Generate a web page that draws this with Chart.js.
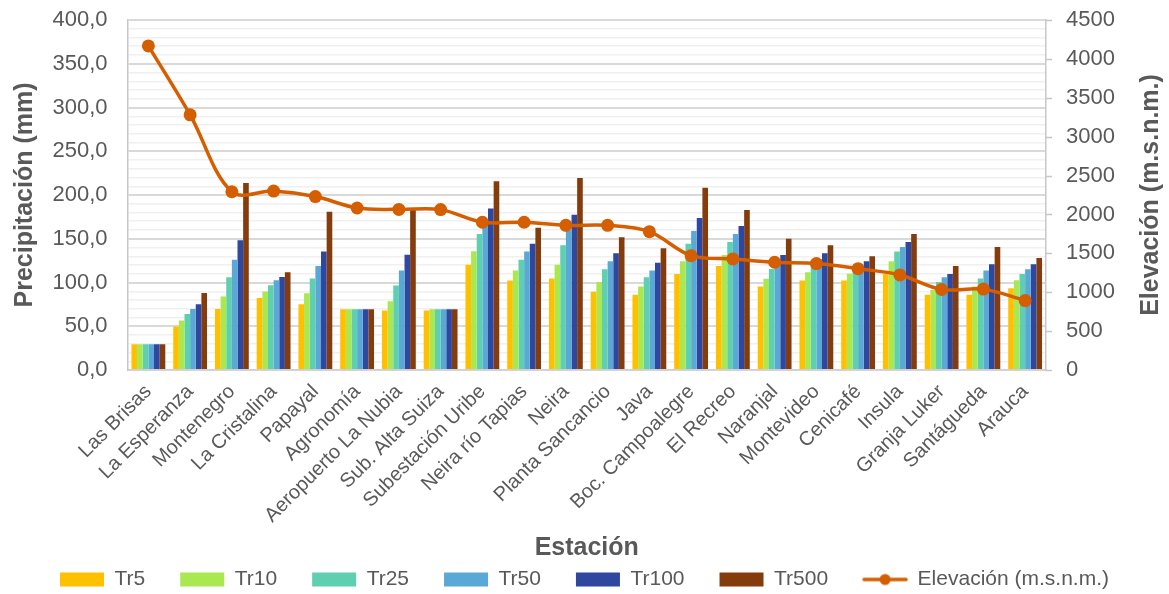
<!DOCTYPE html>
<html>
<head>
<meta charset="utf-8">
<script src="https://cdn.jsdelivr.net/npm/chart.js@4/dist/chart.umd.min.js"></script>
<style>
  html, body { margin: 0; padding: 0; background: #ffffff; }
  #wrap { width: 1169px; height: 594px; }
</style>
</head>
<body>
<div id="wrap"><canvas id="chart" width="1169" height="594"></canvas></div>
<script>
// Stations and return-period precipitation (mm), plus station elevation (m.s.n.m.)
const estaciones = ["Las Brisas", "La Esperanza", "Montenegro", "La Cristalina", "Papayal", "Agronomía",
  "Aeropuerto La Nubia", "Sub. Alta Suiza", "Subestación Uribe", "Neira río Tapias", "Neira",
  "Planta Sancancio", "Java", "Boc. Campoalegre", "El Recreo", "Naranjal", "Montevideo",
  "Cenicafé", "Insula", "Granja Luker", "Santágueda", "Arauca"];

const tr5   = [29.5, 49.7, 69.8, 82.4, 75.1, 69.4, 67.9, 67.9, 120.4, 102.4, 104.5, 89.5, 86.1, 109.7, 118.9, 95.3, 102.4, 102.4, 109.8, 86.1, 86.1, 93.4];
const tr10  = [29.5, 56.5, 83.9, 89.6, 87.7, 69.4, 78.6, 69.4, 135.7, 113.6, 120.4, 100.6, 95.3, 124.2, 131.5, 104.3, 111.7, 110.0, 124.2, 91.5, 95.3, 102.5];
const tr25  = [29.5, 64.1, 106.0, 96.8, 104.5, 69.4, 96.5, 69.4, 155.4, 126.1, 142.5, 115.1, 106.0, 144.4, 146.3, 115.3, 119.7, 114.5, 135.3, 100.6, 104.5, 109.8];
const tr50  = [29.5, 69.8, 126.1, 102.6, 118.9, 69.4, 113.6, 69.4, 166.9, 135.3, 159.6, 124.2, 113.6, 158.9, 155.4, 119.5, 126.9, 117.4, 140.6, 106.0, 113.6, 115.1];
const tr100 = [29.5, 75.2, 148.2, 106.4, 135.3, 69.4, 131.8, 69.4, 184.7, 144.4, 177.5, 133.4, 122.7, 173.7, 164.6, 131.5, 133.4, 124.4, 146.3, 109.8, 120.8, 120.8];
const tr500 = [29.5, 88.1, 213.7, 111.7, 181.0, 69.4, 184.0, 69.4, 215.6, 162.7, 219.4, 151.6, 139.1, 208.3, 182.8, 149.9, 142.7, 129.9, 155.4, 118.9, 140.6, 128.0];
const elevacion = [4167, 3281, 2292, 2300, 2230, 2083, 2065, 2062, 1900, 1900, 1860, 1860, 1779, 1470, 1428, 1385, 1368, 1303, 1222, 1035, 1040, 893];

const precipTicks = [0, 50, 100, 150, 200, 250, 300, 350, 400];
const elevTicks = [0, 500, 1000, 1500, 2000, 2500, 3000, 3500, 4000, 4500];

const TXT = '#595959';
const FONT = 'Liberation Sans, Arial, sans-serif';
const LINE_COLOR = '#D55E00';
const AXIS_COLOR = '#c8c8c8';
const ELEV_TITLE = 'Elevación (m.s.n.m.)';
const PAD_BOTTOM = -6;

// Legend swatch for the elevation series: short line with a round marker
const lineSwatch = document.createElement('canvas');
lineSwatch.width = 46; lineSwatch.height = 16;
(function () {
  const c = lineSwatch.getContext('2d');
  c.strokeStyle = LINE_COLOR; c.lineWidth = 3.5; c.lineCap = 'round';
  c.beginPath(); c.moveTo(2, 8); c.lineTo(44, 8); c.stroke();
  c.fillStyle = LINE_COLOR;
  c.beginPath(); c.arc(23, 8, 5.5, 0, Math.PI * 2); c.fill();
})();

// Right-hand axis: short outside tick marks and a title read bottom-to-top
const rightAxisDecor = {
  id: 'rightAxisDecor',
  afterDraw(chart) {
    const s = chart.scales.y1;
    const ctx = chart.ctx;
    ctx.save();
    ctx.strokeStyle = AXIS_COLOR;
    ctx.lineWidth = 1.5;
    ctx.beginPath();
    elevTicks.forEach(v => {
      const y = Math.round(s.getPixelForValue(v)) + 0.5;
      ctx.moveTo(s.left, y);
      ctx.lineTo(s.left + 6, y);
    });
    ctx.stroke();
    ctx.translate(1151, (s.top + s.bottom) / 2);
    ctx.rotate(-Math.PI / 2);
    ctx.font = 'bold 25px ' + FONT;
    ctx.fillStyle = TXT;
    ctx.textAlign = 'center';
    ctx.textBaseline = 'middle';
    ctx.fillText(ELEV_TITLE, 0, 0);
    ctx.restore();
  }
};

function barSet(label, data, color) {
  return { type: 'bar', label, data, backgroundColor: color, borderWidth: 0,
           yAxisID: 'y', order: 2, categoryPercentage: 0.81, barPercentage: 1.0 };
}

const datasets = [
  barSet('Tr5', tr5, '#FFC000'),
  barSet('Tr10', tr10, '#A9E851'),
  barSet('Tr25', tr25, '#5ECFB1'),
  barSet('Tr50', tr50, '#5AA8D5'),
  barSet('Tr100', tr100, '#2F479E'),
  barSet('Tr500', tr500, '#843C0C'),
  { type: 'line', label: ELEV_TITLE, data: elevacion, yAxisID: 'y1', order: 1,
    borderColor: LINE_COLOR, backgroundColor: LINE_COLOR, borderWidth: 3.5,
    pointRadius: 6.5, pointHoverRadius: 6.5, pointBackgroundColor: LINE_COLOR,
    pointBorderWidth: 0, tension: 0.35, fill: false }
];

new Chart(document.getElementById('chart'), {
  data: { labels: estaciones, datasets },
  plugins: [rightAxisDecor],
  options: {
    responsive: false,
    animation: false,
    layout: { padding: { top: 20, bottom: PAD_BOTTOM, left: 0, right: 0 } },
    plugins: {
      tooltip: { enabled: false },
      legend: {
        position: 'bottom',
        labels: {
          color: TXT,
          font: { family: FONT, size: 21 },
          usePointStyle: true,
          pointStyleWidth: 44,
          boxHeight: 14,
          padding: 35,
          generateLabels(chart) {
            return chart.data.datasets.map((ds, i) => ({
              text: ds.label,
              fillStyle: ds.backgroundColor,
              strokeStyle: ds.backgroundColor,
              lineWidth: 0,
              fontColor: TXT,
              pointStyle: ds.type === 'line' ? lineSwatch : 'rect',
              datasetIndex: i,
              hidden: false
            }));
          }
        }
      }
    },
    scales: {
      x: {
        grid: { display: false },
        border: { display: true, color: '#d0d0d0', width: 1.5 },
        ticks: { color: TXT, font: { family: FONT, size: 20 }, maxRotation: 45, minRotation: 45,
                 autoSkip: false, padding: 2 },
        title: { display: true, text: 'Estación', color: TXT,
                 font: { family: FONT, size: 25, weight: 'bold' }, padding: { top: 0, bottom: -29 } },
        afterFit(scale) {
          const lg = scale.chart.legend;
          scale.height = 594 - 370 - (lg ? lg.height : 0) - PAD_BOTTOM;
        }
      },
      y: {
        position: 'left',
        min: 0, max: 400,
        afterBuildTicks(scale) {
          const t = [];
          for (let v = 0; v <= 400; v += 10) t.push({ value: v });
          scale.ticks = t;
        },
        grid: {
          drawTicks: true,
          tickLength: 18,
          tickColor: 'rgba(0,0,0,0)',
          color: ctx => (precipTicks.includes(ctx.tick.value) ? '#d9d9d9' : '#f0f0f0'),
          lineWidth: ctx => (precipTicks.includes(ctx.tick.value) ? 2 : 1.5)
        },
        border: { display: true, color: AXIS_COLOR, width: 1.5 },
        ticks: {
          autoSkip: false, color: TXT, font: { family: FONT, size: 22 }, padding: 2,
          callback: v => (precipTicks.includes(v) ? v.toFixed(1).replace('.', ',') : '')
        },
        title: { display: true, text: 'Precipitación (mm)', color: TXT,
                 font: { family: FONT, size: 25, weight: 'bold' }, padding: { top: 10, bottom: 0 } },
        afterFit(scale) { scale.width = 127.5; }
      },
      y1: {
        position: 'right',
        min: 0, max: 4500,
        afterBuildTicks(scale) { scale.ticks = elevTicks.map(v => ({ value: v })); },
        grid: { drawOnChartArea: false, drawTicks: true, tickLength: 19, tickColor: 'rgba(0,0,0,0)' },
        border: { display: true, color: AXIS_COLOR, width: 1.5 },
        ticks: { color: TXT, font: { family: FONT, size: 22 }, padding: 1, callback: v => String(v) },
        title: { display: false },
        afterFit(scale) { scale.width = 123; }
      }
    }
  }
});
</script>
</body>
</html>
